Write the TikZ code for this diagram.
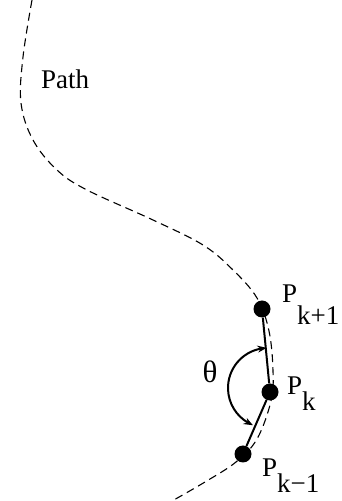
\documentclass[tikz,border=0pt]{standalone}
\usepackage{fontspec}
\setmainfont{Liberation Serif}
\usetikzlibrary{arrows.meta,calc,bending}
\begin{document}
\begin{tikzpicture}[x=1pt,y=1pt,
  dot/.style={circle,fill=black,inner sep=0pt,minimum size=17pt},
  lbl/.style={inner sep=0pt,anchor=base west,font=\fontsize{27}{27}\selectfont},
  seg/.style={line width=2pt},
  pathline/.style={dash pattern=on 8pt off 5pt,line width=1.1pt},
  ang/.style={line width=2pt,{Stealth[length=9pt,width=7pt,bend]}-{Stealth[length=9pt,width=7pt,bend]}}
]
\useasboundingbox (0,0) rectangle (341,501);
\draw[pathline] plot[smooth,tension=0.6] coordinates {
  (32,501) (23,444) (21,398) (33,361) (57,331) (87,311) (153,281) (203,256)
  (233,231) (257,203) (269,170) (273,130) (271,100) (257,62) (236,39) (205,19) (172,0)};
\node[dot] (Pk1) at (262,192) {};
\node[dot] (Pk) at (270,109) {};
\node[dot] (Pkm) at (243,47) {};
\draw[seg] (Pk1) -- (Pk);
\draw[seg] (Pk) -- (Pkm);
\coordinate (arcc) at (268,113);
\draw[ang] ($(arcc)+(92:40)$) arc[start angle=92,end angle=248,radius=40];
\node[lbl] (Lk1) at (282,198) {P\raisebox{-22pt}{k+1}};
\node[lbl] (Lk) at (287,106) {P\raisebox{-16pt}{k}};
\node[lbl] (Lkm) at (262,24) {P\raisebox{-16pt}{k−1}};
\node[lbl] (Lpath) at (41,412) {Path};
\node[inner sep=0pt,font=\fontsize{31}{31}\selectfont] (theta) at (210,129) {θ};
\end{tikzpicture}
\end{document}
